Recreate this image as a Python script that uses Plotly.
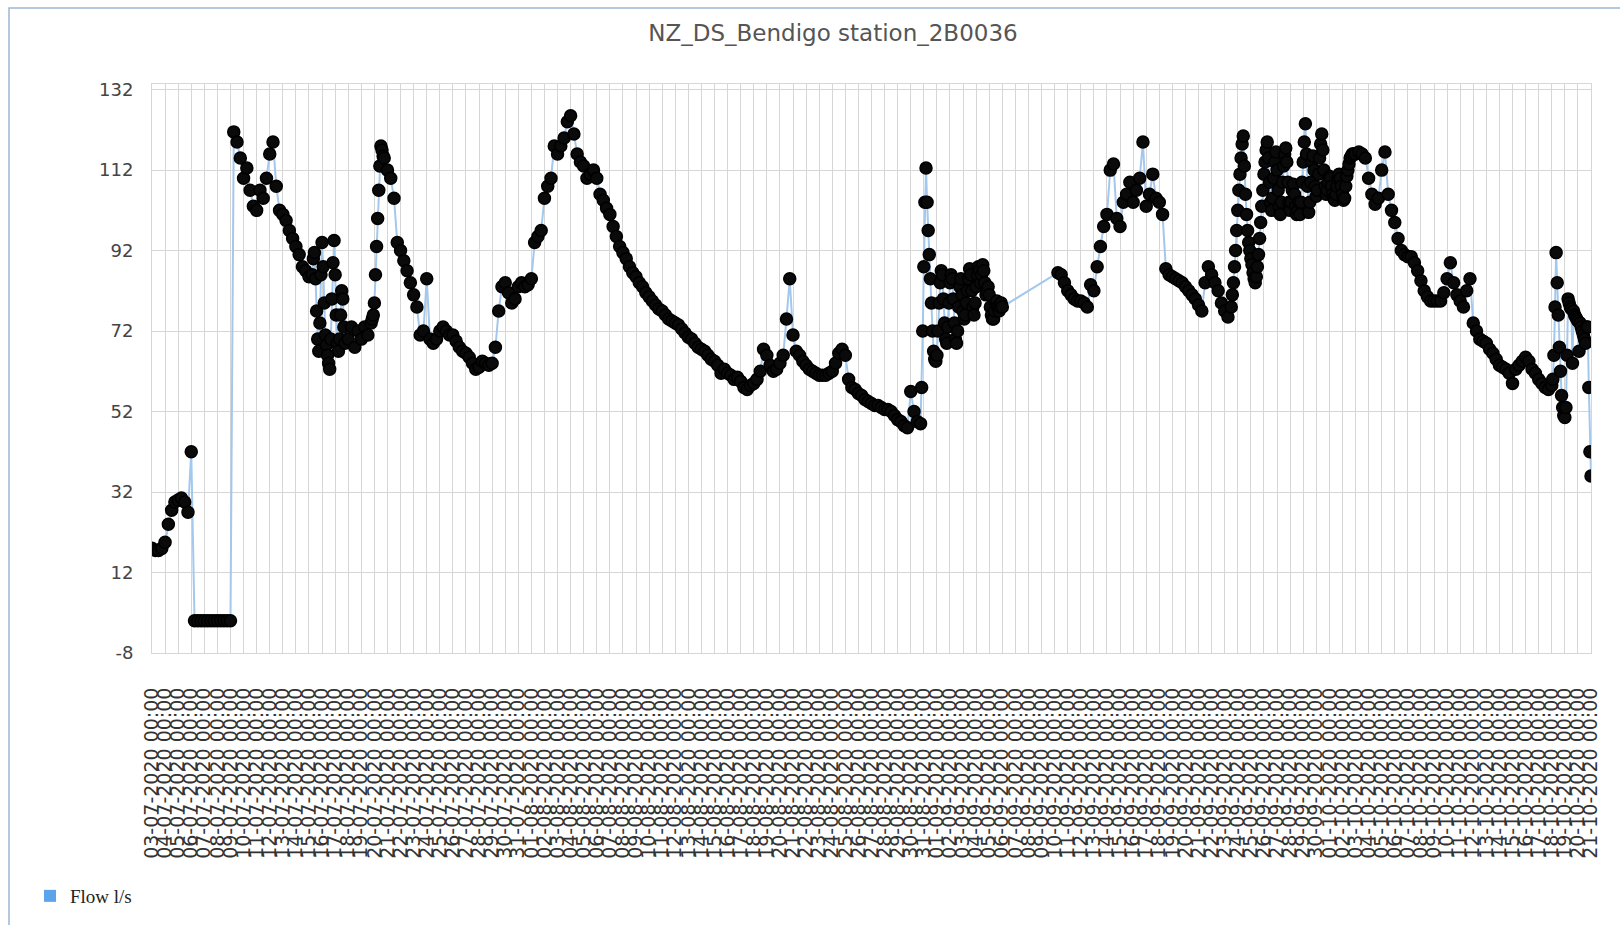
import pandas as pd
import plotly.graph_objects as go

# ---- data ----
# base series: 6-hourly readings
base_start = "2020-07-03 00:00"
base_step = "6h"
flow_ls = [
    18, 17.5, 17.5, 18,
    19.5, 24, 27.5, 29.5,
    30, 30.5, 29.5, 27,
    42, 0, 0, 0,
    0, 0, 0, 0,
    0, 0, 0, 0,
    0, 121.5, 119, 115,
    110, 112.5, 107, 103,
    102, 107, 105, 110,
    116, 119, 108, 102,
    101, 99.5, 97, 95,
    93, 91, 88, 87,
    85.5, 86, 68, 91,
    69, 94, 63, 94,
    66, 80, 68, 82,
    70, 73, 68, 72,
    70, 73, 71, 74,
    76, 100, 118, 115,
    112, 110, 105, 94,
    92, 89.5, 87, 84,
    81, 78, 71, 72,
    85, 70, 69, 70,
    72, 73, 72, 71,
    71, 69.5, 68, 67,
    66.5, 65.5, 64, 62.5,
    63, 64.5, 64, 63.5,
    64, 68, 77, 83,
    84, 81.5, 79, 80,
    83, 84, 83, 83.5,
    85, 94, 95.5, 97,
    105, 108, 110, 118,
    116, 118, 120, 124,
    125.5, 121, 116, 114,
    113, 110, 111, 112,
    110, 106, 104.5, 102.5,
    101, 98, 95.5, 93,
    91.5, 90, 88, 86.5,
    85.5, 84, 83, 81.5,
    80.5, 79.5, 78.5, 77.5,
    77, 76, 75, 74.5,
    74, 73.5, 72.5, 71.5,
    70.5, 70, 69, 68,
    67.5, 67, 66, 65,
    64.5, 63.5, 61.5, 62.5,
    61.5, 61, 60, 60.5,
    59.5, 58, 57.5, 58.5,
    59, 60, 62, 67.5,
    66, 63.5, 62, 62.5,
    64, 66, 75, 85,
    71, 67, 66, 64.5,
    63.5, 62.5, 62, 61.5,
    61, 61, 61, 61.5,
    62, 64, 66.5, 67.5,
    66, 60, 58, 57.5,
    56.5, 56, 55, 54.5,
    54, 53.5, 53.5, 53,
    52.5, 52.5, 52, 51,
    50, 49.5, 48.5, 48,
    57, 52, 49.5, 49,
    112, 92, 82, 67,
    65, 80, 87, 69,
    84, 86, 69, 85,
    72, 75, 83, 87.5,
    76, 87, 88.5, 80,
    82, 76, 75, 79,
    78, None, None, None,
    None, None, None, None,
    None, None, None, None,
    None, None, None, None,
    None, 86.5, 86, 84,
    82, 81, 80, 79.5,
    79.5, 79, 78, 83.5,
    82, 88, 93, 98,
    101, 112, 113.5, 100,
    98, 104, 106, 109,
    104, 107, 110, 119,
    103, 106, 111, 105,
    104, 101, 87.5, 86,
    85.5, 85, 84.5, 84,
    83, 82, 81, 80,
    78.5, 77, 84, 88,
    86, 84, 82, 79,
    77, 75.5, 80, 90,
    105, 115, 120.5, 100,
    92, 86, 84, 96,
    108, 119, 102, 110,
    116.5, 101, 110, 117.5,
    102, 108, 103, 101,
    110, 123.5, 104, 115.5,
    106, 112, 121, 106,
    110, 108, 104.5, 109,
    111, 104.5, 110, 115,
    116, 116.5, 116, 115,
    110, 106, 103.5, 105,
    112, 116.5, 106, 102,
    99, 95, 92, 91,
    90.5, 90.5, 89, 87,
    84.5, 82, 80.5, 79.5,
    79.5, 79.5, 79.5, 81.5,
    85, 89, 84, 81,
    79.5, 78, 82, 85,
    74, 72, 70, 69.5,
    69, 67.5, 66.5, 65,
    63.5, 63, 62.5, 61.5,
    59, 62.5, 63.5, 64.5,
    65.5, 64.5, 62.5, 61.5,
    60, 59, 58, 57.5,
    58.5, 91.5, 80, 62,
    51, 79, 77.5, 76,
    74.5, 73, 73, 57,
    36,
]

# noisy stretches: 2-hourly readings
fine_step = "2h"
noisy_jul15_start = "2020-07-15 06:00"
noisy_jul15 = [
    86, 90, 91.5, 85, 77, 70, 67, 74, 86, 94, 88, 79,
    71, 68.5, 66, 64, 62.5, 70, 80, 89, 94.5, 86, 76, 69,
    67, 70, 76, 82, 80, 73, 69,
]
rise_jul19_start = "2020-07-19 18:00"
rise_jul19 = [74, 75, 76, 79, 86, 93, 100, 107, 113, 118, 117, 115.5, 115]
noisy_sep01_start = "2020-08-30 18:00"
noisy_sep01 = [
    49, 58, 72, 88, 104, 112.5, 104, 97, 91, 85, 79, 72,
    67, 65, 64.5, 66, 72, 79, 84, 87, 86, 80, 74, 70,
    69, 73, 79, 84, 86, 85, 80, 74, 70, 69, 72, 78,
    83, 85, 81, 77, 75, 76, 79, 82, 85, 87.5, 86, 82,
    78, 76, 79, 83, 86, 88, 87, 84, 86, 88.5, 87, 84,
    81, 82, 83, 81, 78, 76, 75, 75, 77, 79, 79.5, 78,
    77, 78, 79, 78,
]
noisy_sep24_start = "2020-09-23 12:00"
noisy_sep24 = [
    78, 81, 84, 88, 92, 97, 102, 107, 111, 115, 118.5, 120.5,
    113, 106, 101, 97, 94, 92, 90, 88.5, 86.5, 85, 84, 85.5,
    88, 91, 95, 99, 103, 107, 111, 114, 117, 119, 115, 109,
    104, 102, 105, 110, 114, 116.5, 112, 107, 103, 101, 104, 109,
    113, 116, 117.5, 114, 109, 104, 102, 104, 107, 108.5, 106, 103,
    101, 102, 104, 101, 104, 109, 114, 119, 123.5, 116, 108, 101.5,
    104, 109, 114, 115.5, 112, 108, 105.5, 107, 111, 115, 118.5, 121,
    117, 112, 108, 106, 107, 109, 110.5, 110, 108, 106, 105, 104.5,
    106, 108, 110, 111, 110, 108, 106, 104.5, 105, 108, 110.5, 112,
    113.5, 115, 115.5, 116, 116, 116, 116,
]
noisy_oct19_start = "2020-10-18 00:00"
noisy_oct19 = [
    58.5, 60, 66, 78, 91.5, 84, 76, 68, 62, 56, 53, 51,
    50.5, 53, 66, 80, 79, 78, 77.5, 64, 77, 76, 75.5, 75,
    74.5, 67, 74, 73, 72, 71, 70, 69, 73, 73, 58, 42,
    36,
]

series_name = "Flow l/s"
title_text = "NZ_DS_Bendigo station_2B0036"
y_ticks = [-8, 12, 32, 52, 72, 92, 112, 132]
x_range = ["2020-07-03 00:00", "2020-10-21 00:00"]

# ---- assemble the series: fine readings replace base readings in their windows ----
base = pd.Series(flow_ls, index=pd.date_range(base_start, periods=len(flow_ls), freq=base_step),
                 dtype="float64")
blocks = [(noisy_jul15_start, noisy_jul15), (rise_jul19_start, rise_jul19),
          (noisy_sep01_start, noisy_sep01), (noisy_sep24_start, noisy_sep24),
          (noisy_oct19_start, noisy_oct19)]
parts = []
for st, vals in blocks:
    idx = pd.date_range(st, periods=len(vals), freq=fine_step)
    base = base[(base.index < idx[0]) | (base.index > idx[-1])]
    parts.append(pd.Series(vals, index=idx, dtype="float64"))
series = pd.concat([base] + parts).sort_index()

# ---- layout geometry (px) ----
W, H = 1620, 925
L, R, T, B = 152, 1591, 84, 653
pw, ph = R - L, B - T

def px_x(X):
    return (X - L) / pw

def px_y(Y):
    return (B - Y) / ph

fig = go.Figure()
fig.add_trace(go.Scatter(
    x=series.index, y=series.values, mode="lines+markers", name=series_name,
    connectgaps=True, showlegend=False,
    line=dict(color="#a3c8ee", width=2),
    marker=dict(symbol="circle", size=12, color="#0a0a0a",
                line=dict(color="#000000", width=1.5)),
))
# legend entry (blue square, as in the reference)
fig.add_trace(go.Scatter(
    x=[None], y=[None], mode="markers", name=series_name,
    marker=dict(symbol="square", size=14, color="#5ba3ea"),
))

fig.update_layout(
    width=W, height=H,
    margin=dict(l=L, r=W - R, t=T, b=H - B, autoexpand=False),
    paper_bgcolor="white", plot_bgcolor="white",
    title=dict(text=title_text, x=833 / W, xref="container", xanchor="center",
               y=1 - 33 / H, yref="container", yanchor="middle",
               font=dict(family="DejaVu Sans", size=23, color="#555555")),
    showlegend=True,
    legend=dict(x=px_x(30), y=px_y(896), xanchor="left", yanchor="middle",
                font=dict(family="Liberation Serif", size=19, color="#222222"),
                bgcolor="rgba(0,0,0,0)", itemsizing="constant"),
    shapes=[dict(type="rect", xref="paper", yref="paper",
                 x0=px_x(9), x1=px_x(1630), y0=px_y(940), y1=px_y(8),
                 line=dict(color="#9fb6d2", width=1.5), layer="below")],
)

fig.update_xaxes(
    type="date", range=x_range, dtick=86400000, tick0="2020-07-03",
    tickformat="%d-%m-%Y %H:%M", tickangle=-90,
    tickfont=dict(family="DejaVu Sans", size=19, color="#333333"),
    showgrid=True, gridcolor="#d6d6d6", gridwidth=1,
    showline=True, linecolor="#d6d6d6", mirror=True,
    zeroline=False, ticks="", ticklabelstandoff=26, automargin=False,
)
fig.update_yaxes(
    range=[-8, 133.4], tickvals=y_ticks, ticktext=[str(v) for v in y_ticks],
    tickfont=dict(family="DejaVu Sans", size=18, color="#444444"),
    showgrid=True, gridcolor="#d6d6d6", gridwidth=1,
    showline=True, linecolor="#d6d6d6", mirror=True,
    zeroline=False, ticks="", ticklabelstandoff=14, automargin=False,
)

fig.write_html("out.html")
